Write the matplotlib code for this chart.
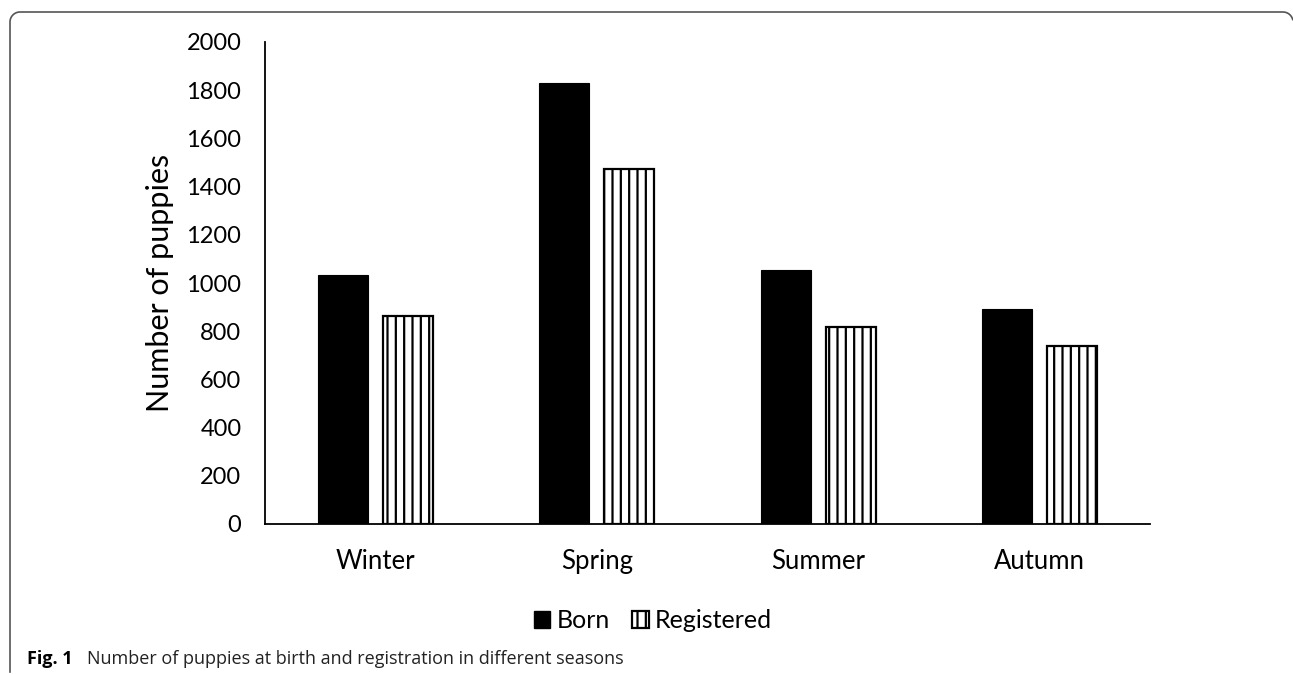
import numpy as np
import matplotlib
matplotlib.use('Agg')
import matplotlib.pyplot as plt
from matplotlib.patches import Patch
from matplotlib.lines import Line2D

seasons = ['Winter', 'Spring', 'Summer', 'Autumn']
born = [1035, 1828, 1054, 893]
registered = [862, 1473, 817, 738]
yticks = [0, 200, 400, 600, 800, 1000, 1200, 1400, 1600, 1800, 2000]

plt.rcParams['font.family'] = ['Lato', 'DejaVu Sans']
plt.rcParams['hatch.linewidth'] = 1.6

W, H = 1293, 674
fig = plt.figure(figsize=(W / 100., H / 100.), dpi=100)
ax = fig.add_axes([265 / W, 1 - 524 / H, 885 / W, 482 / H])

x = np.arange(len(seasons))
bw = 0.226
gap = 0.068
ax.bar(x - (bw + gap) / 2, born, width=bw, color='black', edgecolor='black', linewidth=0.8)
ax.bar(x + (bw + gap) / 2, registered, width=bw, color='white', edgecolor='black',
       linewidth=1.6, hatch='||')

ax.set_xlim(-0.5, len(seasons) - 0.5)
ax.set_ylim(0, 2000)
ax.set_yticks(yticks)
ax.set_yticklabels([str(v) for v in yticks], fontsize=17)
ax.set_xticks(x)
ax.set_xticklabels(seasons, fontsize=18.5)
ax.tick_params(axis='y', length=0, pad=17)
ax.tick_params(axis='x', length=0, pad=18)
for s in ['top', 'right']:
    ax.spines[s].set_visible(False)
ax.spines['left'].set_linewidth(1.3)
ax.spines['bottom'].set_linewidth(1.3)
ax.set_ylabel('Number of puppies', fontsize=22, labelpad=9)

handles = [Patch(facecolor='black', edgecolor='black', label='Born'),
           Patch(facecolor='white', edgecolor='black', linewidth=1.6, hatch='||', label='Registered')]
fig.legend(handles=handles, loc='center', bbox_to_anchor=(653 / W, 1 - 621 / H), ncol=2,
           frameon=False, fontsize=18, handlelength=0.65, handleheight=0.65,
           handletextpad=0.25, columnspacing=0.9)

# figure caption
cap_font = ['Open Sans', 'DejaVu Sans']
t_fig = fig.text(27 / W, 1 - 659 / H, 'Fig. 1', fontsize=13, fontweight='bold',
                 family=cap_font, va='center', ha='left')
fig.canvas.draw()
x_end = t_fig.get_window_extent().x1
fig.text((x_end + 14) / W, 1 - 659 / H,
         'Number of puppies at birth and registration in different seasons',
         fontsize=13, family=cap_font, va='center', ha='left', color='#222222')

# rounded frame on top and left
r = 10
t1 = np.linspace(np.pi, np.pi / 2, 20)
t2 = np.linspace(np.pi / 2, 0.25, 10)
px = np.concatenate([[10], 10 + r + r * np.cos(t1), 1283 + r * np.cos(t2)])
py = np.concatenate([[672], 12 + r - r * np.sin(t1), 12 + r - r * np.sin(t2)])
fig.add_artist(Line2D(px / W, 1 - py / H, color='#555555', linewidth=1.2))

fig.savefig('out.png', dpi=100)
